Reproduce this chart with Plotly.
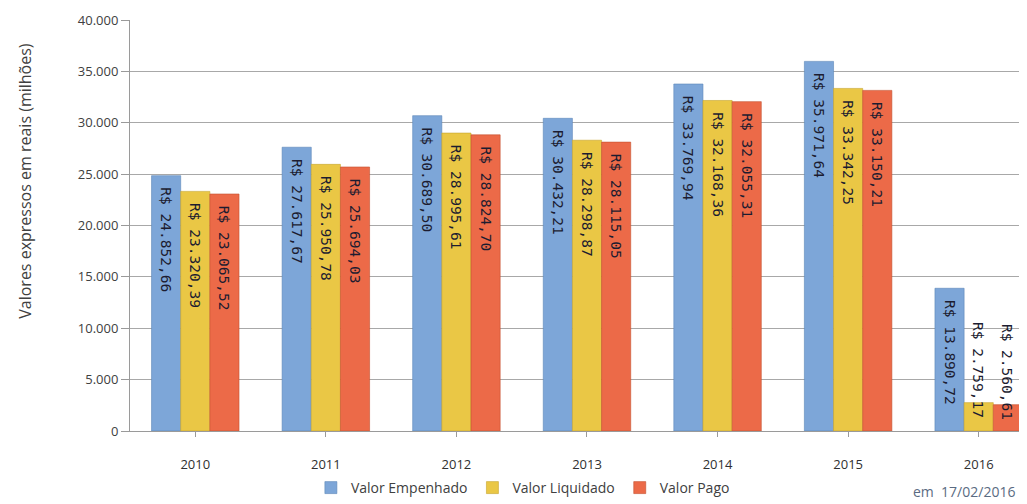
import plotly.graph_objects as go

anos = ["2010", "2011", "2012", "2013", "2014", "2015", "2016"]
empenhado = [24852.66, 27617.67, 30689.50, 30432.21, 33769.94, 35971.64, 13890.72]
liquidado = [23320.39, 25950.78, 28995.61, 28298.87, 32168.36, 33342.25, 2759.17]
pago = [23065.52, 25694.03, 28824.70, 28115.05, 32055.31, 33150.21, 2560.61]
y_ticks = [0, 5000, 10000, 15000, 20000, 25000, 30000, 35000, 40000]

series = [
    ("Valor Empenhado", empenhado, "#7DA6D8", "#5C86B8"),
    ("Valor Liquidado", liquidado, "#EAC745", "#C6A52E"),
    ("Valor Pago", pago, "#EC6A48", "#C4502F"),
]
LABEL_FONT = dict(family="DejaVu Sans Mono, monospace", size=14.5, color="#1c1c30")


def fmt(v):
    s = f"{v:,.2f}"
    s = s.replace(",", "X").replace(".", ",").replace("X", ".")
    return "R$ " + s


fig = go.Figure()
small = []
for i, (name, vals, color, line) in enumerate(series):
    texts = []
    for j, v in enumerate(vals):
        if v > 8000:
            texts.append("\u00a0" + fmt(v))
        else:
            texts.append("")
            small.append((i, j, v))
    fig.add_trace(go.Bar(
        x=anos, y=vals, name=name,
        marker=dict(color=color, line=dict(color=line, width=0.6)),
        text=texts,
        textposition="inside",
        insidetextanchor="end",
        textangle=90,
        constraintext="none",
        textfont=LABEL_FONT,
        cliponaxis=False,
    ))

bar_px = 29.1
for i, j, v in small:
    fig.add_annotation(
        x=j, y=v, xref="x", yref="y", text=fmt(v), textangle=90, showarrow=False,
        xanchor="center", yanchor="middle",
        xshift=(i - 1) * bar_px, yshift=33,
        font=LABEL_FONT,
    )

fig.update_layout(
    width=1019, height=496,
    margin=dict(l=122, r=0, t=12, b=72),
    paper_bgcolor="white", plot_bgcolor="white",
    barmode="group", bargap=0.33, bargroupgap=0,
    separators=",.",
    font=dict(family="Open Sans, DejaVu Sans, sans-serif", color="#404040"),
    legend=dict(orientation="h", x=0.438, xanchor="center", y=-0.1383, yanchor="middle",
                font=dict(size=14, color="#404040"), itemwidth=30, traceorder="normal"),
    showlegend=True,
)
fig.update_xaxes(
    type="category", range=[-0.5, 6.37],
    showline=True, linecolor="#9a9a9a", linewidth=1,
    ticks="outside", ticklen=5, tickcolor="#9a9a9a",
    tickfont=dict(size=13, color="#303030"),
    ticklabelstandoff=16,
    showgrid=False, automargin=False,
)
fig.update_yaxes(
    range=[0, 40000], tickvals=y_ticks, tickformat=",d",
    showline=True, linecolor="#9a9a9a", linewidth=1,
    ticks="outside", ticklen=8, tickcolor="#9a9a9a",
    tickfont=dict(size=13, color="#404040"),
    showgrid=True, gridcolor="#a8a8a8", gridwidth=1,
    zeroline=False, automargin=False,
)
fig.add_annotation(
    text="Valores expressos em reais (milhões)", textangle=-90,
    xref="paper", yref="paper", x=-0.117, y=0.609, xanchor="center", yanchor="middle",
    showarrow=False, font=dict(size=16, color="#404040"),
)
fig.add_annotation(
    text="em  17/02/2016",
    xref="paper", yref="paper", x=0.989, y=-0.148, xanchor="right", yanchor="middle",
    showarrow=False, font=dict(size=14, color="#5a6b82"),
)
fig.write_html("out.html")
